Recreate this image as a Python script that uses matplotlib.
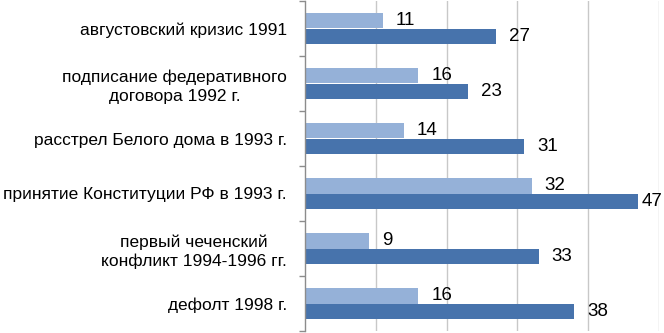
import matplotlib
matplotlib.use("Agg")
import matplotlib.pyplot as plt
import numpy as np

plt.rcParams['font.family'] = ['Liberation Sans', 'DejaVu Sans']

categories = [
    "августовский кризис 1991",
    "подписание федеративного\nдоговора 1992 г.",
    "расстрел Белого дома в 1993 г.",
    "принятие Конституции РФ в 1993 г.",
    "первый чеченский\nконфликт 1994-1996 гг.",
    "дефолт 1998 г.",
]
series_light = [11, 16, 14, 32, 9, 16]
series_dark = [27, 23, 31, 47, 33, 38]

light_color = "#95B1D8"
dark_color = "#4773AC"

fig = plt.figure(figsize=(6.64, 3.33), dpi=100)
ax = fig.add_axes([305 / 664, 2 / 333, 354 / 664, 330 / 333])

y = np.arange(len(categories))
h = 0.285
ax.barh(y - h / 2, series_light, height=h, color=light_color, zorder=3)
ax.barh(y + h / 2, series_dark, height=h, color=dark_color, zorder=3)

ax.set_xlim(0, 50)
ax.set_ylim(len(categories) - 0.5, -0.5)

# value labels
px_per_unit = 354 / 50
off = 13 / px_per_unit
xmax_label = 47.6
for yi, v in zip(y - h / 2, series_light):
    ax.text(min(v + off, xmax_label), yi, str(v), va="center", ha="left",
            fontsize=13.5, color="#000000", zorder=4, clip_on=False)
for yi, v in zip(y + h / 2, series_dark):
    ax.text(min(v + off, xmax_label), yi, str(v), va="center", ha="left",
            fontsize=13.5, color="#000000", zorder=4, clip_on=False)

# grid
ax.set_xticks([10, 20, 30, 40, 50])
ax.xaxis.grid(True, color="#C8C8C8", linewidth=1.0, zorder=0)
ax.tick_params(axis="x", length=0, labelbottom=False)

# y axis ticks at boundaries, labels at centers
ax.set_yticks(np.arange(-0.5, len(categories) + 0.5, 1.0))
ax.set_yticklabels([])
ax.set_yticks(y, minor=True)
ax.set_yticklabels(categories, minor=True, fontsize=12.5, color="#000000",
                   multialignment="center", linespacing=1.3)
ax.tick_params(axis="y", which="major", length=4, width=1, color="#8C8C8C",
               direction="out")
ax.tick_params(axis="y", which="minor", length=0, pad=13)

for s in ["top", "right", "bottom"]:
    ax.spines[s].set_visible(False)
ax.spines["left"].set_color("#8C8C8C")
ax.spines["left"].set_linewidth(1)
ax.spines["left"].set_zorder(5)

fig.savefig("out.png", dpi=100)
